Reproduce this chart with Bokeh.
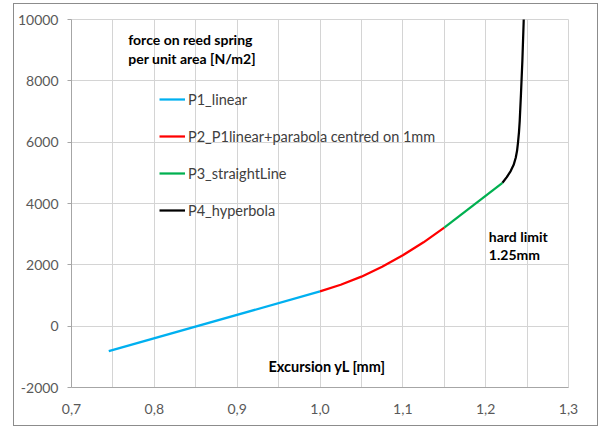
from bokeh.plotting import figure
from bokeh.models import (FixedTicker, CustomJSTickFormatter, Label, Legend, LegendItem, Range1d)
from bokeh.embed import file_html
from bokeh.resources import INLINE

# ---- data ----
p1_x = [0.745, 1.0]
p1_y = [-815, 1135]
p2_x = [1.0, 1.025, 1.05, 1.075, 1.1, 1.125, 1.15]
p2_y = [1135, 1350, 1615, 1940, 2310, 2735, 3215]
p3_x = [1.15, 1.2203]
p3_y = [3215, 4675]
p4_x = [1.2203, 1.2255, 1.2302, 1.2338, 1.2363, 1.2379, 1.2390, 1.2402, 1.2411, 1.2426, 1.2443, 1.2459, 1.2475]
p4_y = [4675, 4860, 5057, 5260, 5491, 5720, 5980, 6320, 6688, 7560, 8646, 9951, 11500]

x_ticks = [0.7, 0.8, 0.9, 1.0, 1.1, 1.2, 1.3]
x_minor = [0.75, 0.85, 0.95, 1.05, 1.15, 1.25]
y_ticks = [-2000, 0, 2000, 4000, 6000, 8000, 10000]
series_names = ["P1_linear", "P2_P1linear+parabola centred on 1mm", "P3_straightLine", "P4_hyperbola"]
series_colors = ["#00b0f0", "#ff0000", "#00b050", "#000000"]

FONT = "Lato"
GRID = "#d4d4d4"

p = figure(width=585, height=423, output_backend="svg", toolbar_location=None,
           x_range=Range1d(0.7, 1.3), y_range=Range1d(-2000, 10000),
           min_border_left=55, min_border_right=31, min_border_top=15, min_border_bottom=40,
           margin=(3, 0, -2, 13),
           styles={"border": "1px solid #8c8c8c"})
p.outline_line_color = GRID
p.background_fill_color = "white"
p.border_fill_color = "white"

# axes
p.xaxis.ticker = FixedTicker(ticks=x_ticks, minor_ticks=x_minor)
p.yaxis.ticker = FixedTicker(ticks=y_ticks)
p.xaxis.formatter = CustomJSTickFormatter(code="return tick.toFixed(1).replace('.', ',');")
p.yaxis.formatter = CustomJSTickFormatter(code="return tick.toFixed(0);")
for ax in (p.xaxis, p.yaxis):
    ax.axis_line_color = "#a6a6a6"
    ax.major_tick_line_color = "#a6a6a6"
    ax.minor_tick_line_color = None
    ax.major_label_text_font = FONT
    ax.major_label_text_font_size = "14px"
    ax.major_label_text_color = "#595959"
p.xaxis.major_tick_out = 0
p.xaxis.major_tick_in = 0
p.xaxis.major_label_standoff = 12
p.yaxis.major_tick_out = 4
p.yaxis.major_tick_in = 0
p.yaxis.major_label_standoff = 9

p.xgrid.grid_line_color = GRID
p.xgrid.minor_grid_line_color = GRID
p.ygrid.grid_line_color = GRID

# series
r1 = p.line(p1_x, p1_y, line_color=series_colors[0], line_width=2.25)
r2 = p.line(p2_x, p2_y, line_color=series_colors[1], line_width=2.25)
r3 = p.line(p3_x, p3_y, line_color=series_colors[2], line_width=2.25)
r4 = p.line(p4_x, p4_y, line_color=series_colors[3], line_width=2.25, line_join="round")

legend = Legend(items=[LegendItem(label=n, renderers=[r]) for n, r in zip(series_names, [r1, r2, r3, r4])],
                location=(88, 167), orientation="vertical",
                padding=0, margin=0, spacing=17, glyph_width=26, glyph_height=20,
                label_height=20, label_standoff=3,
                label_text_font=FONT, label_text_font_size="14.5px", label_text_color="#404040",
                background_fill_alpha=0, border_line_color=None)
p.add_layout(legend)

def add_label(x, y, text, size="14px"):
    p.add_layout(Label(x=x, y=y, text=text, text_font=FONT, text_font_size=size,
                       text_font_style="bold", text_color="#000000", text_baseline="middle",
                       text_align="left"))

add_label(0.7685, 9364, "force on reed spring")
add_label(0.7685, 8744, "per unit area [N/m2]")
add_label(1.2038, 2936, "hard limit")
add_label(1.2038, 2339, "1.25mm")
add_label(0.9377, -1305, "Excursion yL [mm]", "14.5px")

open("out.html", "w").write(file_html(p, INLINE))
